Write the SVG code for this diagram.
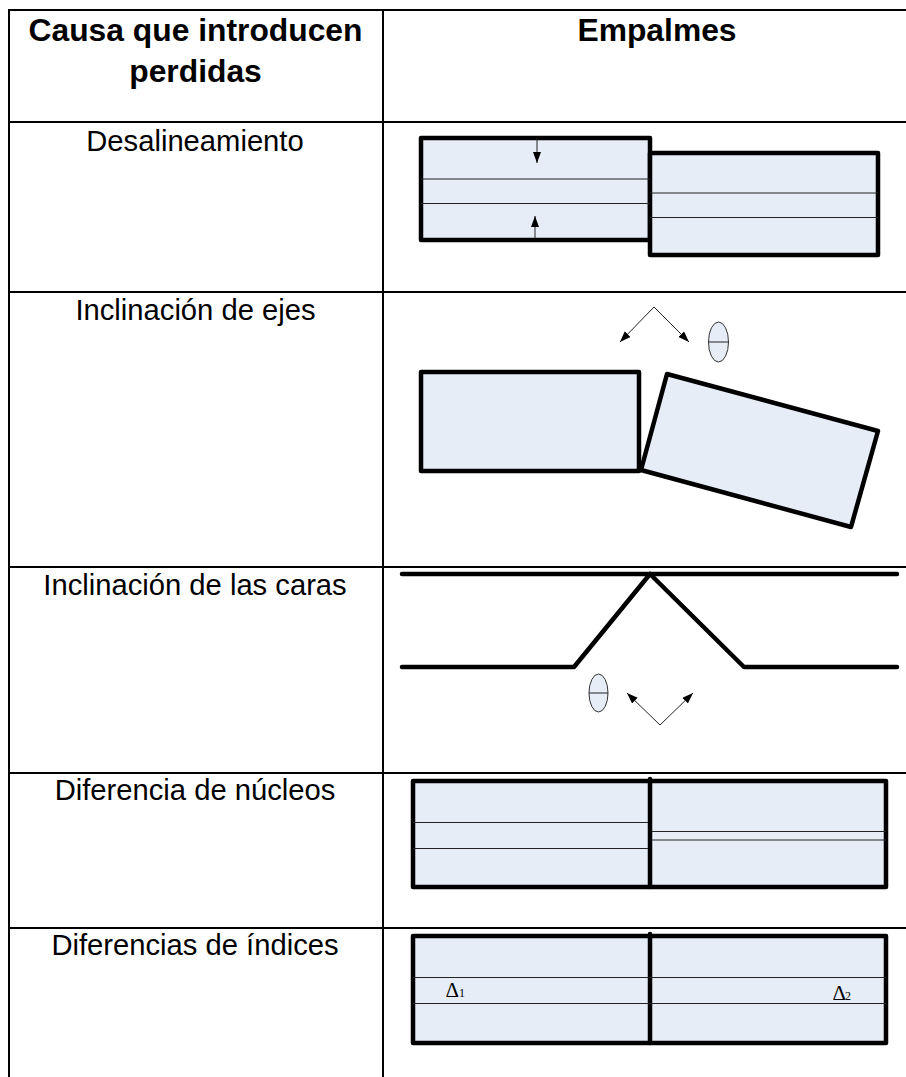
<svg xmlns="http://www.w3.org/2000/svg" width="906" height="1077" viewBox="0 0 906 1077">
<style>
.grid{stroke:#000;stroke-width:2;fill:none}
.box{fill:#e6edf7;stroke:#000;stroke-width:4.5;stroke-linejoin:round}
.thin{stroke:#222;stroke-width:1;fill:none}
.wire{stroke:#000;stroke-width:4.5;fill:none;stroke-linecap:round;stroke-linejoin:round}
.oval{fill:#e6edf7;stroke:#333;stroke-width:1}
text{font-family:"Liberation Sans",Arial,sans-serif;fill:#000}
.h{font-size:31.800px;font-weight:bold;text-anchor:middle}
.c{font-size:29.200px;text-anchor:middle}
.d{font-family:"Liberation Serif","Times New Roman",serif;font-size:21px}
.s{font-family:"Liberation Serif","Times New Roman",serif;font-size:12px}
</style>
<defs><marker id="a" markerWidth="12" markerHeight="10" refX="11" refY="4" orient="auto" markerUnits="userSpaceOnUse"><path d="M0 0L11 4L0 8Z" fill="#000"/></marker></defs>
<rect width="906" height="1077" fill="#fff"/>
<g id="table">
<path class="grid" d="M9 9V1077M383 10V1077"/>
<path class="grid" d="M9 10H906M9 122H906M9 292H906M9 567H906M9 773H906M9 928H906"/>
</g>
<g id="headers">
<text class="h" x="195.500" y="41">Causa que introducen</text>
<text class="h" x="195.500" y="82">perdidas</text>
<text class="h" x="657" y="41">Empalmes</text>
</g>
<g id="labels">
<text class="c" x="195" y="151">Desalineamiento</text>
<text class="c" x="195.500" y="320">Inclinación de ejes</text>
<text class="c" x="195" y="595">Inclinación de las caras</text>
<text class="c" x="195" y="800">Diferencia de núcleos</text>
<text class="c" x="195" y="955">Diferencias de índices</text>
</g>
<g id="desalineamiento">
<rect class="box" x="421" y="138" width="229" height="102"/>
<rect class="box" x="650" y="153" width="228" height="102"/>
<path class="thin" d="M421 179H650M421 203.500H650M650 193H878M650 217.500H878"/>
<path class="thin" marker-end="url(#a)" d="M537 138V163"/>
<path class="thin" marker-end="url(#a)" d="M535 238V216"/>
</g>
<g id="inclinacion-ejes">
<rect class="box" x="421" y="372" width="218" height="99"/>
<path class="box" d="M667 374L878 431L851 527L641 470Z"/>
<path class="thin" marker-end="url(#a)" d="M654 307L620 342"/>
<path class="thin" marker-end="url(#a)" d="M654 307L689 342"/>
<ellipse class="oval" cx="718.500" cy="342" rx="10" ry="20"/>
<path class="thin" d="M708.500 342H728.500"/>
</g>
<g id="inclinacion-caras">
<path class="wire" d="M402 574H897"/>
<path class="wire" d="M402 667H574L650 574L744 667H897"/>
<ellipse class="oval" cx="598.500" cy="693" rx="9.500" ry="19"/>
<path class="thin" d="M589 693H608"/>
<path class="thin" marker-end="url(#a)" d="M660 725L627 693"/>
<path class="thin" marker-end="url(#a)" d="M660 725L693 693"/>
</g>
<g id="diferencia-nucleos">
<rect class="box" x="413" y="781" width="473" height="106"/>
<path class="wire" d="M650 779V887"/>
<path class="thin" d="M413 822.500H648M413 848.500H648M652 831.500H886M652 840H886"/>
</g>
<g id="diferencias-indices">
<rect class="box" x="413" y="936" width="473" height="107"/>
<path class="wire" d="M650 934V1043"/>
<path class="thin" d="M413 977.500H886M413 1003.500H886"/>
<text class="d" x="445.500" y="997">Δ</text><text class="s" x="459" y="997">1</text>
<text class="d" x="832.500" y="1000">Δ</text><text class="s" x="845" y="1000">2</text>
</g>
</svg>
